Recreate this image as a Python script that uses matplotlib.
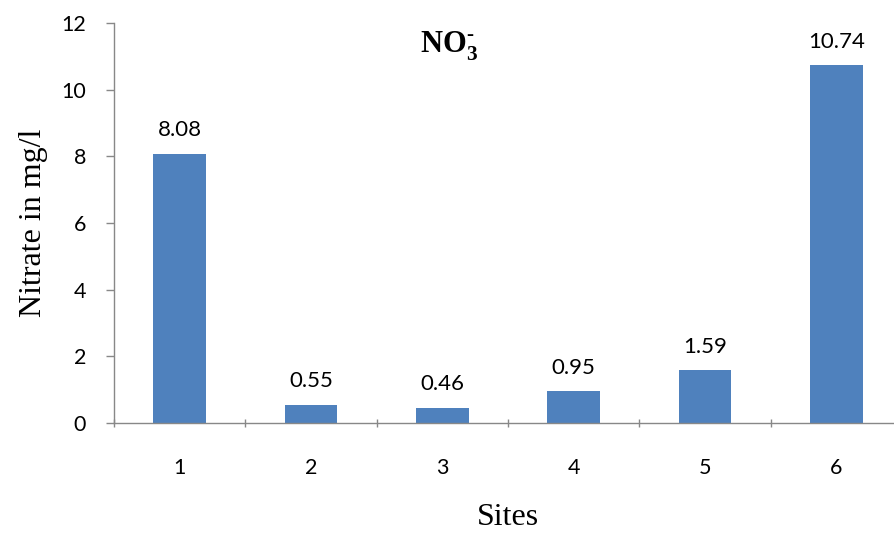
import matplotlib
matplotlib.use("Agg")
import matplotlib.pyplot as plt

sites = ["1", "2", "3", "4", "5", "6"]
nitrate = [8.08, 0.55, 0.46, 0.95, 1.59, 10.74]
yticks = [0, 2, 4, 6, 8, 10, 12]

plt.rcParams["mathtext.fontset"] = "custom"
plt.rcParams["mathtext.rm"] = "Liberation Serif:bold"
plt.rcParams["mathtext.bf"] = "Liberation Serif:bold"

fig = plt.figure(figsize=(8.94, 5.33), dpi=100)
ax = fig.add_axes([0.1275, 0.2064, 0.8815, 0.7504])

pos = list(range(len(sites)))
bars = ax.bar(pos, nitrate, width=0.40, color="#4F81BD", zorder=2)

# value labels above each bar
for b, v in zip(bars, nitrate):
    ax.text(b.get_x() + b.get_width() / 2, v + 0.4, f"{v:.2f}",
            ha="center", va="bottom", fontsize=16, family="Lato")

ax.set_xlim(-0.5, len(sites) - 0.5)
ax.set_ylim(0, 12)
ax.set_yticks(yticks)
ax.set_yticklabels([str(t) for t in yticks], fontsize=15.5, family="Lato")

# category labels sit between boundary ticks
ax.set_xticks(pos)
ax.set_xticklabels(sites, fontsize=15.5, family="Lato")
ax.tick_params(axis="x", length=0, pad=25)
ax.set_xticks([p - 0.5 for p in range(len(sites) + 1)], minor=True)
ax.tick_params(axis="x", which="minor", length=6, width=1, color="#888888",
               direction="inout")
ax.tick_params(axis="y", length=6, width=1, color="#888888", direction="out", pad=14)

for side in ["top", "right"]:
    ax.spines[side].set_visible(False)
for side in ["left", "bottom"]:
    ax.spines[side].set_color("#888888")
    ax.spines[side].set_linewidth(1)

ax.set_ylabel("Nitrate in mg/l", fontsize=23, family="Liberation Serif", labelpad=10)
ax.set_xlabel("Sites", fontsize=23, family="Liberation Serif", labelpad=18)

ax.text(0.425, 0.985, r"$\mathbf{NO}_{3}^{\mathbf{\text{-}}}$", transform=ax.transAxes,
        ha="center", va="top", fontsize=22)

fig.savefig("out.png", dpi=100)
